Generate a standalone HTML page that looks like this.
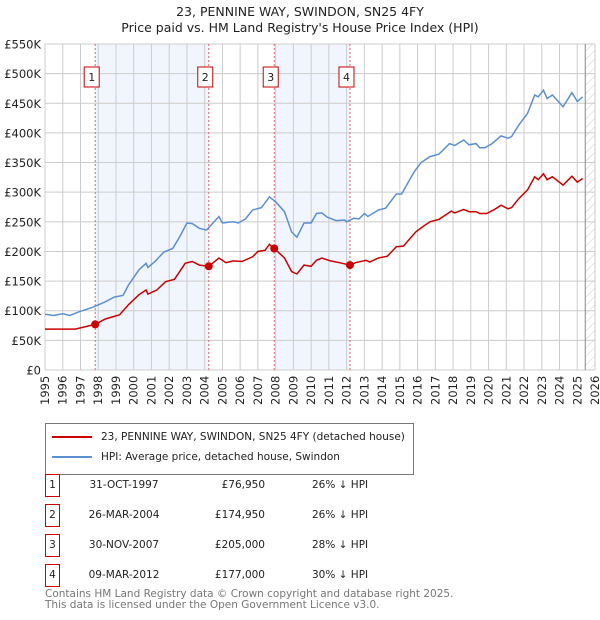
<!DOCTYPE html>
<html><head><meta charset="utf-8">
<style>
body{margin:0;background:#fff;font-family:"Liberation Sans","DejaVu Sans",sans-serif;}
#wrap{position:relative;width:600px;height:620px;overflow:hidden;}
svg text{font-family:"DejaVu Sans","Liberation Sans",sans-serif;}
</style></head>
<body>
<div id="wrap">
<svg id="chart" width="600" height="620" viewBox="0 0 600 620">
<defs>
<pattern id="hatch" width="6" height="6" patternUnits="userSpaceOnUse" patternTransform="rotate(45)">
<line x1="0" y1="0" x2="0" y2="6" stroke="#ccc" stroke-width="1"/>
</pattern>
</defs>
<text x="300" y="16" text-anchor="middle" font-size="12.5" fill="#222">23, PENNINE WAY, SWINDON, SN25 4FY</text>
<text x="300" y="32" text-anchor="middle" font-size="12.5" fill="#222">Price paid vs. HM Land Registry's House Price Index (HPI)</text>
<g id="plot"></g>
</svg>
<div style="position:absolute;left:45px;top:423px;width:367px;height:50px;border:1px solid #777;font-family:'DejaVu Sans','Liberation Sans',sans-serif;font-size:10.5px;color:#222;">
 <div style="position:absolute;left:6px;top:7px;"><span style="display:inline-block;width:40px;height:2px;background:#cc0000;vertical-align:middle;margin-right:9px;"></span>23, PENNINE WAY, SWINDON, SN25 4FY (detached house)</div>
 <div style="position:absolute;left:6px;top:27px;"><span style="display:inline-block;width:40px;height:2px;background:#5b8fd4;vertical-align:middle;margin-right:9px;"></span>HPI: Average price, detached house, Swindon</div>
</div>
<div id="table" style="position:absolute;left:0;top:0;font-family:'DejaVu Sans','Liberation Sans',sans-serif;font-size:10.5px;color:#222;"></div>
<div style="position:absolute;left:45px;top:589px;font-family:'DejaVu Sans','Liberation Sans',sans-serif;font-size:10.5px;color:#777;line-height:11px;">Contains HM Land Registry data © Crown copyright and database right 2025.<br>This data is licensed under the Open Government Licence v3.0.</div>
</div>
<script>
const yTicks=[0,50000,100000,150000,200000,250000,300000,350000,400000,450000,500000,550000];
const yTickLabels=["£0","£50K","£100K","£150K","£200K","£250K","£300K","£350K","£400K","£450K","£500K","£550K"];
const xYears=[1995,1996,1997,1998,1999,2000,2001,2002,2003,2004,2005,2006,2007,2008,2009,2010,2011,2012,2013,2014,2015,2016,2017,2018,2019,2020,2021,2022,2023,2024,2025,2026];
const hpiYears=[1995,1995.5,1996,1996.4,1996.9,1997.7,1998.4,1998.9,1999.4,1999.7,2000.3,2000.7,2000.8,2001.2,2001.7,2002.2,2002.6,2003.0,2003.3,2003.7,2004.1,2004.8,2005.0,2005.6,2005.9,2006.3,2006.7,2007.2,2007.65,2008.0,2008.5,2008.9,2009.2,2009.6,2010.0,2010.3,2010.6,2010.9,2011.4,2011.9,2012.0,2012.4,2012.7,2013.0,2013.2,2013.8,2014.2,2014.8,2015.1,2015.8,2016.2,2016.7,2017.2,2017.8,2018.1,2018.6,2018.9,2019.3,2019.5,2019.8,2020.2,2020.7,2021.1,2021.3,2021.7,2022.2,2022.6,2022.8,2023.1,2023.3,2023.6,2024.2,2024.7,2025.0,2025.3];
const hpiValues=[94000,92000,95000,92000,98000,106000,115000,123000,126000,143000,169000,180000,173000,183000,199000,205000,225000,248000,247000,239000,236000,259000,248000,250000,248000,255000,270000,274000,292000,284000,267000,233000,224000,248000,248000,264000,265000,258000,252000,253000,250000,256000,255000,264000,259000,270000,273000,297000,297000,334000,350000,360000,364000,382000,379000,388000,380000,382000,375000,375000,382000,395000,391000,394000,413000,433000,464000,461000,472000,458000,464000,444000,468000,453000,461000];
const ppYears=[1995,1996.7,1997.83,1998.4,1999.2,1999.7,2000.3,2000.7,2000.8,2001.3,2001.8,2002.3,2002.9,2003.3,2003.7,2004.23,2004.8,2005.2,2005.6,2006.1,2006.7,2007.0,2007.4,2007.65,2007.92,2008.5,2008.9,2009.2,2009.6,2010.0,2010.3,2010.6,2011.1,2011.6,2012.19,2012.5,2013.1,2013.3,2013.8,2014.3,2014.8,2015.2,2015.9,2016.3,2016.7,2017.2,2017.9,2018.1,2018.6,2018.9,2019.3,2019.5,2019.9,2020.4,2020.7,2021.1,2021.3,2021.7,2022.2,2022.6,2022.8,2023.1,2023.3,2023.6,2024.2,2024.7,2025.0,2025.3];
const ppValues=[69000,69000,76950,86000,93000,110000,127000,135000,128000,135000,149000,153000,180000,183000,177000,174950,189000,181000,184000,183000,191000,200000,202000,212000,205000,189000,166000,162000,177000,175000,185000,189000,184000,181000,177000,181000,185000,182000,189000,192000,208000,209000,233000,242000,250000,254000,268000,265000,271000,267000,267000,264000,264000,272000,278000,272000,274000,289000,304000,326000,321000,331000,321000,326000,312000,327000,317000,323000];
const saleLabels=["1","2","3","4"];
const saleYears=[1997.83,2004.23,2007.92,2012.19];
const salePrices=[76950,174950,205000,177000];
const saleDates=["31-OCT-1997","26-MAR-2004","30-NOV-2007","09-MAR-2012"];
const salePriceText=["£76,950","£174,950","£205,000","£177,000"];
const saleHpiText=["26% ↓ HPI","26% ↓ HPI","28% ↓ HPI","30% ↓ HPI"];
const bandStarts=[1997.83,2007.92];
const bandEnds=[2004.23,2012.19];
const hatchStart=2025.45;

const L=45,R=595,T=44,B=370,X0=1995,X1=2026,YMAX=550000;
function xs(y){return L+(y-X0)/(X1-X0)*(R-L);}
function ys(v){return B-v/YMAX*(B-T);}
const NS="http://www.w3.org/2000/svg";
const g=document.getElementById('plot');
function mk(tag,attrs,parent){const e=document.createElementNS(NS,tag);for(const k in attrs)e.setAttribute(k,attrs[k]);(parent||g).appendChild(e);return e;}

for(let i=0;i<bandStarts.length;i++){
 const r=mk('rect',{x:xs(bandStarts[i]),y:T,width:xs(bandEnds[i])-xs(bandStarts[i]),height:B-T,fill:'#eef3fd',opacity:0.8});
 
 
}
const hr=mk('rect',{x:xs(hatchStart),y:T,width:R-xs(hatchStart),height:B-T,fill:'url(#hatch)'});


for(const yr of xYears){
 const l=mk('line',{x1:xs(yr),x2:xs(yr),y1:T,y2:B,stroke:'#ccc','stroke-width':1});
 
 
 const t=mk('text',{x:0,y:0,transform:`translate(${xs(yr)+4},${B+35}) rotate(-90)`,'font-size':11.5,fill:'#222'});
 t.textContent=yr;
 
 
}
yTicks.forEach((v,i)=>{
 const l=mk('line',{x1:L,x2:R,y1:ys(v),y2:ys(v),stroke:'#ccc','stroke-width':1});
 
 
 const t=mk('text',{x:41,y:ys(v)+4.5,'text-anchor':'end','font-size':11.5,fill:'#222'});
 t.textContent=yTickLabels[i];
 
 
});
const xl=mk('line',{x1:xs(hatchStart),x2:xs(hatchStart),y1:T,y2:B,stroke:'#888','stroke-width':1});



saleYears.forEach((yr,i)=>{
 const l=mk('line',{x1:xs(yr),x2:xs(yr),y1:T,y2:B,stroke:'#e06666','stroke-width':1,'stroke-dasharray':'2,2'});
 
 
 const bx=xs(yr)-11;
 const r=mk('rect',{x:bx,y:67,width:15,height:20,fill:'#fff',stroke:'#cc0000','stroke-width':1});
 
 
 const t=mk('text',{x:bx+7.5,y:81,'text-anchor':'middle','font-size':11,fill:'#222'});
 t.textContent=saleLabels[i];
 
 
});

function path(xsArr,vs){return xsArr.map((y,i)=>(i?'L':'M')+xs(y).toFixed(1)+','+ys(vs[i]).toFixed(1)).join('');}
const hp=mk('path',{d:path(hpiYears,hpiValues),fill:'none',stroke:'#5b8fd4','stroke-width':1.5});


const pp=mk('path',{d:path(ppYears,ppValues),fill:'none',stroke:'#cc0000','stroke-width':1.5});


saleYears.forEach((yr,i)=>{
 const c=mk('circle',{cx:xs(yr),cy:ys(salePrices[i]),r:4,fill:'#cc0000'});
 
 
});

const tb=document.getElementById('table');
saleDates.forEach((d,i)=>{
 const top=482+i*30;
 const row=document.createElement('div');
 
 
 row.style.cssText=`position:absolute;left:0;top:${top-8}px;width:600px;height:24px;`;
 row.innerHTML=`<span style="position:absolute;left:45px;top:0;width:13px;height:21px;border:1px solid #cc0000;text-align:center;line-height:21px;">${saleLabels[i]}</span>`+
 `<span style="position:absolute;left:80px;width:88px;text-align:center;line-height:23px;">${d}</span>`+
 `<span style="position:absolute;left:180px;width:85px;text-align:right;line-height:23px;">${salePriceText[i]}</span>`+
 `<span style="position:absolute;left:312px;line-height:23px;">${saleHpiText[i]}</span>`;
 tb.appendChild(row);
});
</script>
</body></html>
